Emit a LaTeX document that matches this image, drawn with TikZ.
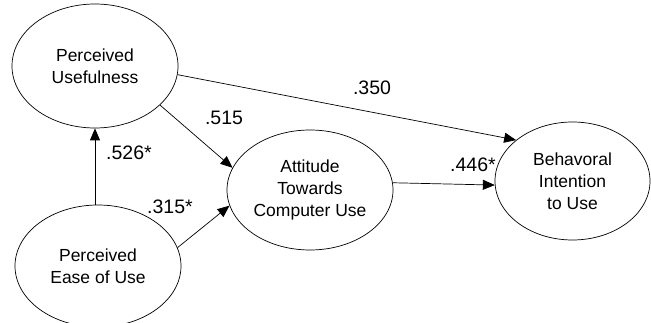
\documentclass[tikz,border=0pt]{standalone}
\usepackage{fontspec}
\setmainfont{Liberation Sans}
\usetikzlibrary{shapes.geometric,arrows.meta}

\tikzset{
  construct/.style={ellipse, draw, line width=0.7pt, inner sep=0pt, align=center,
    font=\fontsize{17.5}{22}\selectfont},
  path arrow/.style={line width=0.7pt, -{Triangle[length=12pt,width=10pt]}},
  coef/.style={font=\fontsize{19.5}{21}\selectfont, inner sep=0pt}
}

\begin{document}
\begin{tikzpicture}[x=1pt,y=-1pt]
  \useasboundingbox (0,0) rectangle (651,323);

  % latent constructs
  \node[construct, minimum width=166pt, minimum height=124pt] (PU)   at (95,66)    {Perceived\\Usefulness};
  \node[construct, minimum width=166pt, minimum height=122pt] (PEU)  at (98,266)   {Perceived\\Ease of Use};
  \node[construct, minimum width=166pt, minimum height=120pt] (ATCU) at (310,190)  {Attitude\\Towards\\Computer Use};
  \node[construct, minimum width=155pt, minimum height=118pt] (BI)   at (572.5,181) {Behavoral\\Intention\\to Use};

  % structural paths
  \draw[path arrow] ([xshift=-3pt]PEU.north) -- ([xshift=-3pt]PEU.north |- PU.south);
  \draw[path arrow] (PU.-6)   -- (BI.144);
  \draw[path arrow] (PU.-31)  -- (ATCU.164);
  \draw[path arrow] (PEU.13)  -- (ATCU.191);
  \draw[path arrow] (ATCU.5)  -- (BI.183);

  % path coefficients
  \node[coef] (c1) at (129,153) {.526*};
  \node[coef] (c2) at (372,88)  {.350};
  \node[coef] (c3) at (224,118) {.515};
  \node[coef] (c4) at (170,207) {.315*};
  \node[coef] (c5) at (473,165) {.446*};
\end{tikzpicture}
\end{document}
